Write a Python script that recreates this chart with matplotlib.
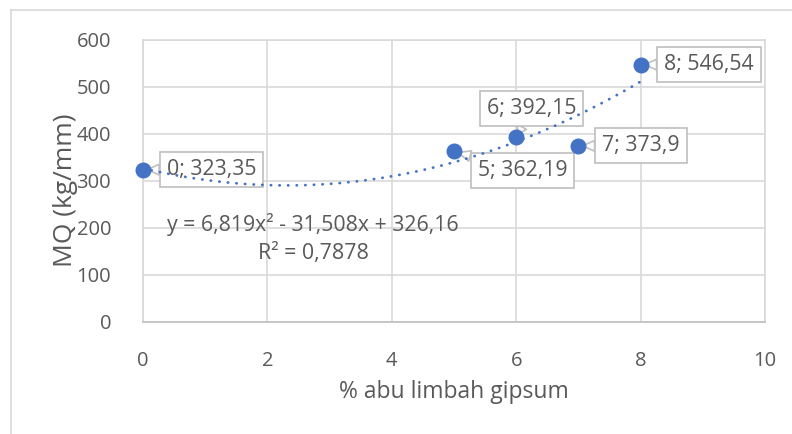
import matplotlib
matplotlib.use("Agg")
import matplotlib.pyplot as plt
import numpy as np
from matplotlib.lines import Line2D
from matplotlib.text import Text

# data
x_vals = [0, 5, 6, 7, 8]
y_vals = [323.35, 362.19, 392.15, 373.9, 546.54]
labels = ["0; 323,35", "5; 362,19", "6; 392,15", "7; 373,9", "8; 546,54"]
coef = [6.819, -31.508, 326.16]
eq_text = "y = 6,819x² - 31,508x + 326,16"
r2_text = "R² = 0,7878"
x_ticks = [0, 2, 4, 6, 8, 10]
y_ticks = [0, 100, 200, 300, 400, 500, 600]

plt.rcParams['font.family'] = ['Open Sans', 'DejaVu Sans']
txt = '#595959'
blue = '#4472C4'
grid = '#D9D9D9'
boxc = '#BFBFBF'

W, H = 792, 434
fig = plt.figure(figsize=(W/100, H/100), dpi=100)
ax = fig.add_axes([143/W, 1-321.7/H, (765-143)/W, (321.7-39.5)/H])

# outer frame
fig.add_artist(Line2D([11/W, 11/W], [0, 1-10/H], transform=fig.transFigure, color=grid, lw=1.2))
fig.add_artist(Line2D([11/W, 1], [1-10/H, 1-10/H], transform=fig.transFigure, color=grid, lw=1.2))

ax.set_xlim(0, 10)
ax.set_ylim(0, 600)
ax.set_xticks(x_ticks)
ax.set_yticks(y_ticks)
ax.grid(True, color=grid, lw=1.2)
ax.set_axisbelow(True)
for s in ax.spines.values():
    s.set_color(grid)
    s.set_linewidth(1.2)
ax.spines['bottom'].set_color(boxc)
ax.tick_params(length=0, labelsize=14, labelcolor=txt)

xl = ax.set_xlabel("% abu limbah gipsum", fontsize=15, color=txt)
yl = ax.set_ylabel("MQ (kg/mm)", fontsize=15, color=txt)

# trendline
xt = np.linspace(0, 8, 200)
yt = np.polyval(coef, xt)
ax.plot(xt, yt, color=blue, lw=2.0, ls=(0, (0.1, 3.0)), dash_capstyle='round', zorder=3)

ax.plot(x_vals, y_vals, 'o', color=blue, ms=10.5, zorder=4, clip_on=False)

offsets = [(68.5, 0), (68.5, -19.5), (15.5, 28.5), (62.6, 0), (68.4, 0)]
anns = []
for xv, yv, lab, off in zip(x_vals, y_vals, labels, offsets):
    a = ax.annotate(lab, (xv, yv), xytext=off, textcoords='offset pixels',
                    ha='center', va='center', fontsize=14.5, color=txt,
                    bbox=dict(boxstyle='square,pad=0.33', fc='white', ec=boxc, lw=1.2),
                    arrowprops=dict(arrowstyle='wedge,tail_width=0.5,shrink_factor=0.5',
                                    fc='white', ec=boxc, lw=1.2, shrinkA=0, shrinkB=3),
                    zorder=2.5, annotation_clip=False)
    anns.append(a)

eq = fig.text(313/W, 1-225/H, eq_text, fontsize=14, color=txt, ha='center', va='center')
r2 = fig.text(313.5/W, 1-253/H, r2_text, fontsize=14, color=txt, ha='center', va='center')

# fit font sizes to reference text extents
fig.canvas.draw()
r = fig.canvas.get_renderer()
def fit(t, target, dim='w'):
    bb = Text.get_window_extent(t, r)
    cur = bb.width if dim == 'w' else bb.height
    t.set_fontsize(t.get_fontsize() * target / cur)

fit(xl, 229)
fit(yl, 153, 'h')
fit(eq, 292)
fit(r2, 111)
fit(anns[0], 90)
fs_lab = anns[0].get_fontsize()
for a in anns[1:]:
    a.set_fontsize(fs_lab)
t600 = ax.get_yticklabels()[-1]
fit(t600, 35)
fs_tick = t600.get_fontsize()
ax.tick_params(labelsize=fs_tick)
ax.tick_params(axis='x', pad=21)
ax.tick_params(axis='y', pad=23)

ax.xaxis.set_label_coords(((339 + 568) / 2 - 143) / 622, -(392 - 321.7) / 282.2)
ax.yaxis.set_label_coords(-(143 - 65) / 622, (321.7 - 190) / 282.2)
xl.set_va('center')
yl.set_va('center')

fig.savefig("out.png", dpi=100)
